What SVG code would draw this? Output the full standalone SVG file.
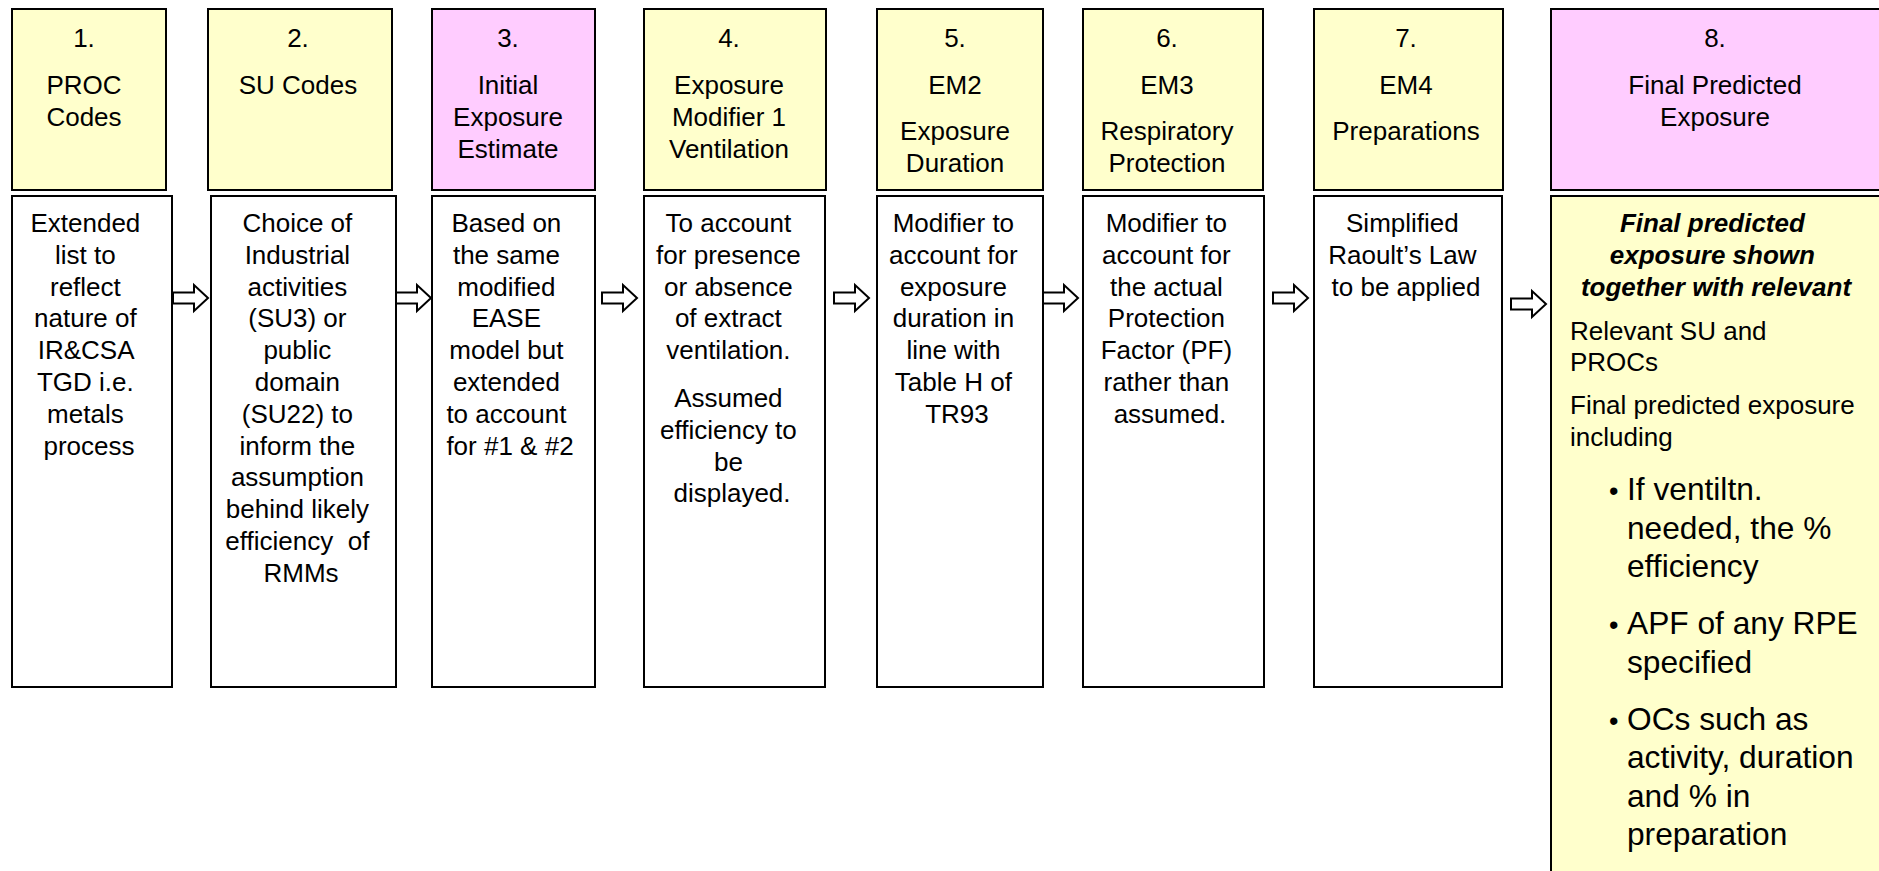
<svg xmlns="http://www.w3.org/2000/svg" width="1879" height="871" viewBox="0 0 1879 871">
<style>
  .hy{fill:#FFFFCC;stroke:#000;stroke-width:2}
  .hp{fill:#FFCCFF;stroke:#000;stroke-width:2}
  .bw{fill:#FFFFFF;stroke:#000;stroke-width:2}
  .by{fill:#FFFFCC;stroke:#000;stroke-width:2}
  text{font-family:"Liberation Sans",Arial,Helvetica,sans-serif;font-size:26px;fill:#000}
  .c{text-anchor:middle}
  .bi{font-weight:bold;font-style:italic}
  .big{font-size:31.7px}
  .dot{font-size:27px}
  .arrow{fill:#fff;stroke:#000;stroke-width:2;stroke-linejoin:miter}
</style>
<defs>
  <path id="ar" d="M0,-5.5 H21 V-13 L35,0 L21,13 V5.5 H0 Z"/>
</defs>
<rect width="1879" height="871" fill="#fff"/>

<g id="connectors">
  <use href="#ar" class="arrow" transform="translate(173,298)"/>
  <use href="#ar" class="arrow" transform="translate(396,298)"/>
  <use href="#ar" class="arrow" transform="translate(602,298)"/>
  <use href="#ar" class="arrow" transform="translate(834,298)"/>
  <use href="#ar" class="arrow" transform="translate(1043,298)"/>
  <use href="#ar" class="arrow" transform="translate(1273,298)"/>
  <use href="#ar" class="arrow" transform="translate(1511,304)"/>
</g>

<g id="node1">
  <rect class="hy" x="12" y="9" width="154" height="181"/>
  <text class="c" x="84" y="47">1.</text>
  <text class="c" x="84" y="94">PROC</text>
  <text class="c" x="84" y="126">Codes</text>
  <rect class="bw" x="12" y="196" width="160" height="491"/>
  <text class="c">
    <tspan x="89" y="232">Extended</tspan>
    <tspan x="89" y="263.8">list to</tspan>
    <tspan x="89" y="295.6">reflect</tspan>
    <tspan x="89" y="327.4">nature of</tspan>
    <tspan x="89" y="359.2">IR&amp;CSA</tspan>
    <tspan x="89" y="391">TGD i.e.</tspan>
    <tspan x="89" y="422.8">metals</tspan>
    <tspan x="89" y="454.6">process</tspan>
  </text>
</g>

<g id="node2">
  <rect class="hy" x="208" y="9" width="184" height="181"/>
  <text class="c" x="298" y="47">2.</text>
  <text class="c" x="298" y="94">SU Codes</text>
  <rect class="bw" x="211" y="196" width="185" height="491"/>
  <text class="c">
    <tspan x="301" y="232">Choice of</tspan>
    <tspan x="301" y="263.8">Industrial</tspan>
    <tspan x="301" y="295.6">activities</tspan>
    <tspan x="301" y="327.4">(SU3) or</tspan>
    <tspan x="301" y="359.2">public</tspan>
    <tspan x="301" y="391">domain</tspan>
    <tspan x="301" y="422.8">(SU22) to</tspan>
    <tspan x="301" y="454.6">inform the</tspan>
    <tspan x="301" y="486.4">assumption</tspan>
    <tspan x="301" y="518.2">behind likely</tspan>
    <tspan x="301" y="550" xml:space="preserve">efficiency  of</tspan>
    <tspan x="301" y="581.8">RMMs</tspan>
  </text>
</g>

<g id="node3">
  <rect class="hp" x="432" y="9" width="163" height="181"/>
  <text class="c" x="508" y="47">3.</text>
  <text class="c" x="508" y="94">Initial</text>
  <text class="c" x="508" y="126">Exposure</text>
  <text class="c" x="508" y="158">Estimate</text>
  <rect class="bw" x="432" y="196" width="163" height="491"/>
  <text class="c">
    <tspan x="510" y="232">Based on</tspan>
    <tspan x="510" y="263.8">the same</tspan>
    <tspan x="510" y="295.6">modified</tspan>
    <tspan x="510" y="327.4">EASE</tspan>
    <tspan x="510" y="359.2">model but</tspan>
    <tspan x="510" y="391">extended</tspan>
    <tspan x="510" y="422.8">to account</tspan>
    <tspan x="510" y="454.6">for #1 &amp; #2</tspan>
  </text>
</g>

<g id="node4">
  <rect class="hy" x="644" y="9" width="182" height="181"/>
  <text class="c" x="729" y="47">4.</text>
  <text class="c" x="729" y="94">Exposure</text>
  <text class="c" x="729" y="126">Modifier 1</text>
  <text class="c" x="729" y="158">Ventilation</text>
  <rect class="bw" x="644" y="196" width="181" height="491"/>
  <text class="c">
    <tspan x="732" y="232">To account</tspan>
    <tspan x="732" y="263.8">for presence</tspan>
    <tspan x="732" y="295.6">or absence</tspan>
    <tspan x="732" y="327.4">of extract</tspan>
    <tspan x="732" y="359.2">ventilation.</tspan>
    <tspan x="732" y="407">Assumed</tspan>
    <tspan x="732" y="438.8">efficiency to</tspan>
    <tspan x="732" y="470.6">be</tspan>
    <tspan x="732" y="502.4">displayed.</tspan>
  </text>
</g>

<g id="node5">
  <rect class="hy" x="877" y="9" width="166" height="181"/>
  <text class="c" x="955" y="47">5.</text>
  <text class="c" x="955" y="94">EM2</text>
  <text class="c" x="955" y="140">Exposure</text>
  <text class="c" x="955" y="172">Duration</text>
  <rect class="bw" x="877" y="196" width="166" height="491"/>
  <text class="c">
    <tspan x="957" y="232">Modifier to</tspan>
    <tspan x="957" y="263.8">account for</tspan>
    <tspan x="957" y="295.6">exposure</tspan>
    <tspan x="957" y="327.4">duration in</tspan>
    <tspan x="957" y="359.2">line with</tspan>
    <tspan x="957" y="391">Table H of</tspan>
    <tspan x="957" y="422.8">TR93</tspan>
  </text>
</g>

<g id="node6">
  <rect class="hy" x="1083" y="9" width="180" height="181"/>
  <text class="c" x="1167" y="47">6.</text>
  <text class="c" x="1167" y="94">EM3</text>
  <text class="c" x="1167" y="140">Respiratory</text>
  <text class="c" x="1167" y="172">Protection</text>
  <rect class="bw" x="1083" y="196" width="181" height="491"/>
  <text class="c">
    <tspan x="1170" y="232">Modifier to</tspan>
    <tspan x="1170" y="263.8">account for</tspan>
    <tspan x="1170" y="295.6">the actual</tspan>
    <tspan x="1170" y="327.4">Protection</tspan>
    <tspan x="1170" y="359.2">Factor (PF)</tspan>
    <tspan x="1170" y="391">rather than</tspan>
    <tspan x="1170" y="422.8">assumed.</tspan>
  </text>
</g>

<g id="node7">
  <rect class="hy" x="1314" y="9" width="189" height="181"/>
  <text class="c" x="1406" y="47">7.</text>
  <text class="c" x="1406" y="94">EM4</text>
  <text class="c" x="1406" y="140">Preparations</text>
  <rect class="bw" x="1314" y="196" width="188" height="491"/>
  <text class="c">
    <tspan x="1406" y="232">Simplified</tspan>
    <tspan x="1406" y="263.8">Raoult’s Law</tspan>
    <tspan x="1406" y="295.6">to be applied</tspan>
  </text>
</g>

<g id="node8">
  <rect class="hp" x="1551" y="9" width="335" height="181"/>
  <text class="c" x="1715" y="47">8.</text>
  <text class="c" x="1715" y="94">Final Predicted</text>
  <text class="c" x="1715" y="126">Exposure</text>
  <rect class="by" x="1551" y="196" width="335" height="690"/>
  <text class="c bi">
    <tspan x="1716" y="232">Final predicted</tspan>
    <tspan x="1716" y="263.8">exposure shown</tspan>
    <tspan x="1716" y="295.6">together with relevant</tspan>
  </text>
  <text>
    <tspan x="1570" y="340">Relevant SU and</tspan>
    <tspan x="1570" y="371">PROCs</tspan>
    <tspan x="1570" y="414">Final predicted exposure</tspan>
    <tspan x="1570" y="446">including</tspan>
  </text>
  <text class="dot">
    <tspan x="1609" y="500">•</tspan>
    <tspan x="1609" y="634">•</tspan>
    <tspan x="1609" y="729.5">•</tspan>
  </text>
  <text class="big">
    <tspan x="1627" y="500">If ventiltn.</tspan>
    <tspan x="1627" y="538.5">needed, the %</tspan>
    <tspan x="1627" y="577">efficiency</tspan>
    <tspan x="1627" y="634">APF of any RPE</tspan>
    <tspan x="1627" y="672.5">specified</tspan>
    <tspan x="1627" y="729.5">OCs such as</tspan>
    <tspan x="1627" y="768">activity, duration</tspan>
    <tspan x="1627" y="806.5">and % in</tspan>
    <tspan x="1627" y="845">preparation</tspan>
  </text>
</g>
</svg>
